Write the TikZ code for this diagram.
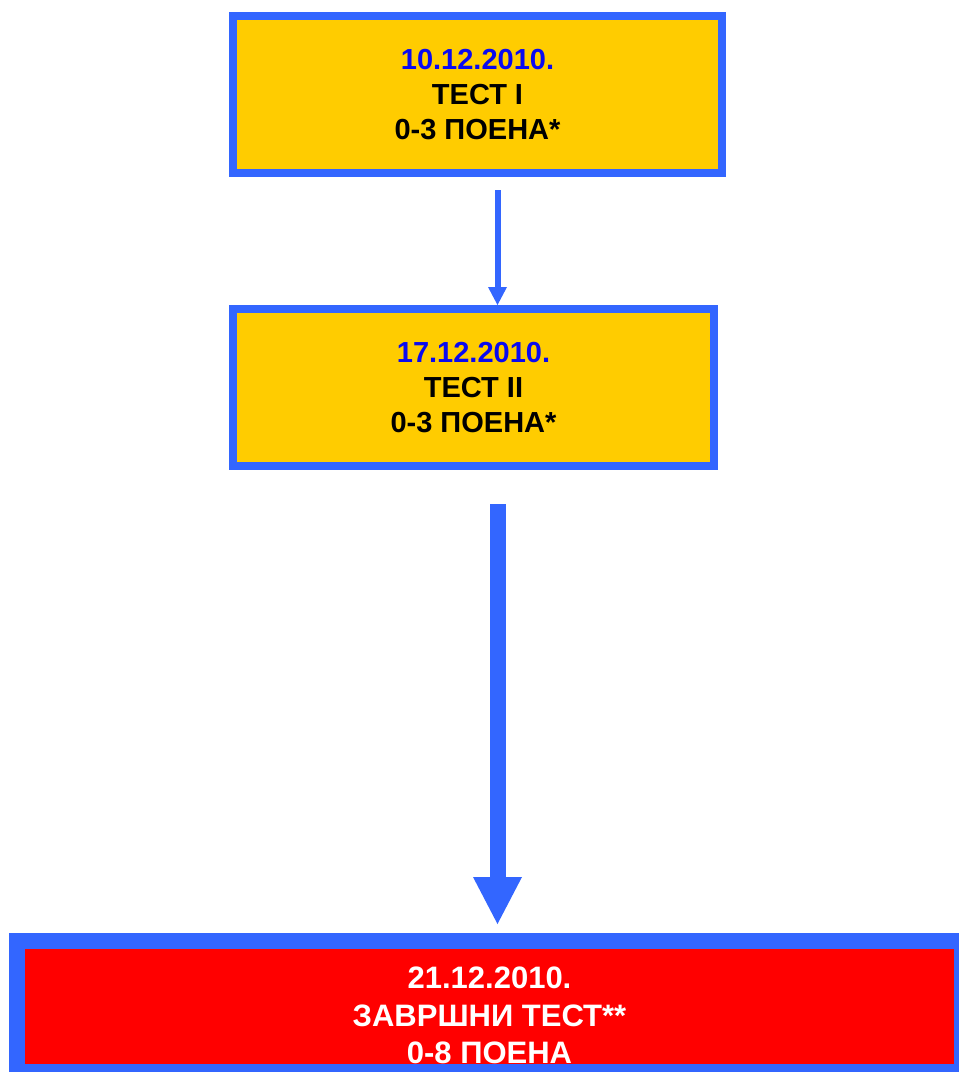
\documentclass[tikz,border=0pt]{standalone}
\usepackage{fontspec}
\setmainfont{Liberation Sans}
\usetikzlibrary{arrows.meta}
\definecolor{frameblue}{HTML}{3366FF}
\definecolor{testyellow}{HTML}{FFCC00}
\definecolor{dateblue}{HTML}{0A0AF0}
\definecolor{finalred}{HTML}{FF0000}

\begin{document}
\begin{tikzpicture}[
  x=0.75pt, y=-0.75pt,
  box/.style={draw=frameblue, line width=6pt, fill=testyellow, align=center,
    inner sep=0pt, minimum height=117.75pt,
    font=\bfseries\fontsize{21.75}{25.9}\selectfont},
  finalbox/.style={box, line width=12pt, fill=finalred, text=white,
    minimum height=98.25pt, font=\bfseries\fontsize{23.25}{28.1}\selectfont},
  thin arrow/.style={frameblue, line width=4.5pt,
    -{Triangle[width=14.25pt, length=13.5pt, line width=0pt]}},
  thick arrow/.style={frameblue, line width=12pt,
    -{Triangle[width=36.75pt, length=35.25pt, line width=0pt]}}
]
\clip (0,0) rectangle (959,1072);
\fill[white] (0,0) rectangle (959,1072);

\node[box, minimum width=366.75pt] (test1) at (477.5,94.5)
  {\textcolor{dateblue}{10.12.2010.}\\ТЕСТ I\\0-3 ПОЕНА*};
\node[box, minimum width=360.75pt] (test2) at (473.5,387.5)
  {\textcolor{dateblue}{17.12.2010.}\\ТЕСТ II\\0-3 ПОЕНА*};
\node[finalbox, minimum width=708.75pt] (final) at (489.5,1006.5)
  {\rule{0pt}{30pt}21.12.2010.\\ЗАВРШНИ ТЕСТ**\\0-8 ПОЕНА};

\coordinate (a1) at (497.5,190);
\coordinate (a2) at (497.5,504);
\draw[thin arrow] (a1) -- (a1 |- test2.north);
\draw[thick arrow, shorten >=6.75pt] (a2) -- (a2 |- final.north);
\end{tikzpicture}
\end{document}
